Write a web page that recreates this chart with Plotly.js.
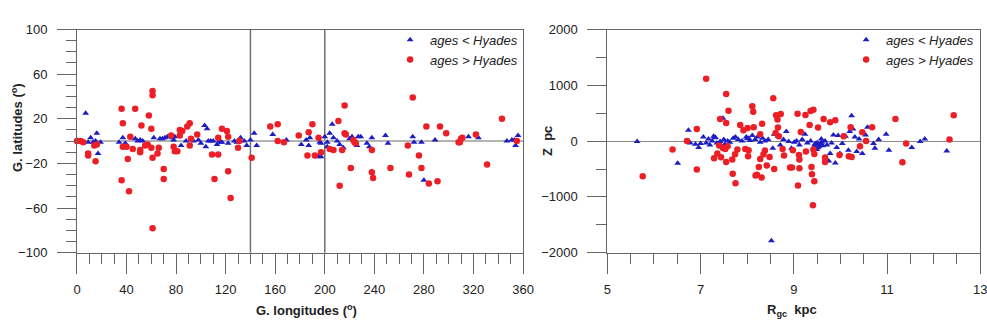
<!DOCTYPE html>
<html><head><meta charset="utf-8">
<script src="https://cdn.plot.ly/plotly-3.0.1.min.js"></script>
<style>html,body{margin:0;padding:0;background:#fff}</style>
</head><body><div id="chart" style="width:987px;height:329px"></div>
<script>
// ---- Left panel: galactic longitude / latitude (degrees) ----
const youngLon = [7,9,11,13,16,17,15,19,34,37,
  39,47,49,51,53,62,67,69,71,73,
  75,77,78,79,84,88,94,98,100,103,
  105,104,106,108,110,113,115,116,117,122,
  127,129,132,135,137,140,143,145,158,169,
  181,185,187,188,195,197,196,197,200,202,
  202,204,206,207,210,212,215,220,222,226,
  227,229,234,236,238,249,251,272,271,278,
  280,289,316,324,347,351,353,356,354];
const youngLat = [25,-1,3,-1,7,-11,0,-1,-1,3,
  -2,2,0,1,0,3,2,2,3,4,
  4,3,1,4,-4,0,0,1,-2,14,
  11,-5,0,0,0,-3,0,-1,-1,-2,
  0,-1,3,0,-4,1,7,-4,6,1,
  -3,1,-4,3,-14,-14,-1,-2,4,-1,
  -5,7,15,3,0,-3,-6,2,4,-4,
  4,4,-2,-5,3,5,-2,-1,4,-1,
  -35,1,4,3,0,1,1,5,-4];
const oldLon = [0,3,5,9,9,15,16,14,36,36,
  37,37,40,41,42,43,45,47,51,51,
  52,55,57,58,60,60,61,61,61,61,
  65,66,70,70,76,78,79,81,83,85,
  83,89,91,91,92,97,109,111,114,114,
  117,121,122,122,124,130,131,141,156,162,
  162,167,179,186,187,190,192,195,197,204,
  207,211,212,214,216,216,217,221,223,224,
  225,238,238,239,253,267,268,271,276,278,
  282,284,291,293,298,308,309,310,311,322,
  331,343,355];
const oldLat = [0,0,-1,-11,-13,-18,-3,-4,-35,29,
  16,-5,-5,-16,-45,4,-7,29,-8,-10,
  14,-4,-3,23,11,-6,-15,45,41,-78,
  -11,-6,-25,-34,5,-5,-9,-9,10,9,
  5,13,16,-4,2,6,-12,-34,-12,3,
  11,9,-27,4,-51,-6,0,-15,13,15,
  0,-1,5,-13,8,15,-13,3,-10,-7,
  -8,18,-40,-8,32,7,6,-24,1,-1,
  -2,-8,-28,-33,-24,-4,-30,39,-13,-24,
  13,-38,-36,13,7,-1,-1,2,3,6,
  -21,20,0];

// ---- Right panel: galactocentric distance (kpc) / height Z (pc) ----
const youngR = [5.64,6.51,6.74,6.78,6.89,6.96,7.00,7.06,7.12,7.17,
  7.20,7.25,7.28,7.32,7.35,7.42,7.48,7.50,7.52,7.58,
  7.63,7.70,7.75,7.81,7.89,7.98,8.03,8.11,8.17,8.22,
  8.28,8.33,8.38,8.45,8.52,8.55,8.58,8.62,8.66,8.71,
  8.78,8.84,8.89,8.95,9.01,9.06,9.12,9.18,9.24,9.29,
  9.36,9.44,9.47,9.49,9.54,9.57,9.59,9.62,9.67,9.71,
  9.75,9.78,9.81,9.85,9.89,9.92,9.95,9.99,10.04,10.11,
  10.17,10.20,10.24,10.27,10.31,10.35,10.40,10.47,10.54,10.58,
  10.71,10.74,10.82,10.98,11.04,11.53,11.71,11.81,12.28,
  9.45,9.50,9.52,9.55,9.60,8.00,8.06,7.40,7.30];
const youngZ = [-9,-397,194,-33,-57,-116,-45,75,-33,39,
  -69,3,87,63,-33,-9,408,27,-57,3,
  -21,51,75,27,3,75,51,99,27,75,
  -21,51,3,27,-1786,-128,122,146,87,-69,
  27,170,-9,-128,-21,3,-69,27,122,-33,
  3,-104,-45,-152,-92,-45,39,-81,3,-69,
  -355,-224,-33,110,-391,-116,99,-224,-45,87,
  -164,170,456,218,75,-188,39,-224,110,247,
  -45,-128,27,122,-164,-116,-9,39,-176,
  -60,-30,-120,-70,-20,40,10,-40,60];
const oldR = [5.76,6.40,6.71,6.92,6.92,7.12,7.29,7.36,7.40,7.42,
  7.44,7.48,7.53,7.55,7.55,7.55,7.60,7.58,7.68,7.69,
  7.74,7.75,7.79,7.85,7.92,7.96,8.01,8.02,8.03,8.11,
  8.13,8.14,8.18,8.21,8.25,8.28,8.28,8.31,8.32,8.35,
  8.38,8.42,8.48,8.56,8.58,8.61,8.62,8.65,8.66,8.68,
  8.72,8.76,8.79,8.92,8.96,8.98,9.08,9.09,9.11,9.12,
  9.12,9.15,9.25,9.26,9.34,9.36,9.38,9.39,9.42,9.42,
  9.44,9.44,9.41,9.52,9.64,9.67,9.67,9.78,9.89,9.98,
  10.07,10.18,10.22,10.24,10.42,10.47,10.55,10.68,11.18,11.33,
  11.41,12.34,12.43];
const oldZ = [-629,-152,0,218,-510,1118,-307,-224,-80,397,
  -290,-122,-140,844,325,-373,546,-92,-331,-587,
  -236,-754,-152,289,194,-140,236,-271,-164,623,
  528,247,-617,-605,-462,122,-319,-653,313,-236,
  -170,-438,-283,766,-498,146,462,385,242,87,
  486,-140,-259,-474,-474,-164,492,-796,-247,-331,
  -486,164,468,-188,289,540,-462,-593,564,-152,
  -718,-230,-1148,242,397,-295,-373,337,373,-247,
  87,-271,247,-283,-92,158,0,247,397,-379,
  -45,27,462];

const rLabelTicks = [5,7,9,11,13];      // labelled long ticks
const rUnlabelledTicks = [6,8,10,12];   // long ticks without labels

const BLUE = '#1d1dc4', RED = '#ec1f27';
const FONT = 'Liberation Sans, Arial, sans-serif';
const frame = '#666';

const blueMarker = {symbol:'triangle-up', size:6, color:BLUE};
const redMarker = {symbol:'circle', size:6.5, color:RED};

const traces = [
  {x:youngLon, y:youngLat, type:'scatter', mode:'markers', name:'ages < Hyades', marker:blueMarker, xaxis:'x', yaxis:'y', legend:'legend', cliponaxis:false},
  {x:oldLon, y:oldLat, type:'scatter', mode:'markers', name:'ages > Hyades', marker:redMarker, xaxis:'x', yaxis:'y', legend:'legend', cliponaxis:false},
  {x:youngR, y:youngZ, type:'scatter', mode:'markers', name:'ages < Hyades', marker:blueMarker, xaxis:'x2', yaxis:'y2', legend:'legend2', cliponaxis:false},
  {x:oldR, y:oldZ, type:'scatter', mode:'markers', name:'ages > Hyades', marker:redMarker, xaxis:'x2', yaxis:'y2', legend:'legend2', cliponaxis:false}
];

const ax = {showline:true, mirror:true, linecolor:frame, linewidth:1, ticks:'outside', tickcolor:frame, tickwidth:1,
  showgrid:false, zeroline:false, tickfont:{family:FONT, size:13, color:'#222'}, fixedrange:true, ticklabeloverflow:'allow'};

const Y0 = 0.2319, Y1 = 0.9103;
const legFont = {family:FONT, size:13, color:'#222', style:'italic'};

const layout = {
  width:987, height:329, margin:{l:0, r:0, t:0, b:0},
  paper_bgcolor:'#fff', plot_bgcolor:'#fff',
  font:{family:FONT},
  xaxis:Object.assign({}, ax, {domain:[0.0780,0.5299], anchor:'y', range:[0,360], tickmode:'linear', tick0:0, dtick:40, ticklen:20, ticklabelstandoff:5,
    minor:{ticks:'outside', tickmode:'linear', tick0:0, dtick:10, ticklen:10, tickcolor:frame, tickwidth:1, showgrid:false}}),
  yaxis:Object.assign({}, ax, {domain:[Y0,Y1], anchor:'x', range:[-100,100], tickmode:'linear', tick0:-100, dtick:40, ticklen:19, ticklabelstandoff:7,
    zeroline:true, zerolinecolor:'#b4b4b4', zerolinewidth:2,
    minor:{ticks:'outside', tickmode:'linear', tick0:-100, dtick:10, ticklen:10, tickcolor:frame, tickwidth:1, showgrid:false}}),
  xaxis2:Object.assign({}, ax, {domain:[0.6153,0.9932], anchor:'y2', range:[5,13], tickmode:'array', tickvals:rLabelTicks, ticklen:20, ticklabelstandoff:5,
    minor:{ticks:'outside', tickmode:'linear', tick0:5, dtick:0.5, ticklen:10, tickcolor:frame, tickwidth:1, showgrid:false}}),
  xaxis3:{domain:[0.6153,0.9932], anchor:'y2', overlaying:'x2', range:[5,13], tickmode:'array', tickvals:rUnlabelledTicks, ticks:'outside', ticklen:20,
    tickcolor:frame, tickwidth:1, showticklabels:false, showline:false, showgrid:false, zeroline:false, fixedrange:true},
  yaxis2:Object.assign({}, ax, {domain:[Y0,Y1], anchor:'x2', range:[-2000,2000], tickmode:'linear', tick0:-2000, dtick:1000, ticklen:19, ticklabelstandoff:7,
    zeroline:true, zerolinecolor:'#8a8a8a', zerolinewidth:1.2,
    minor:{ticks:'outside', tickmode:'linear', tick0:-2000, dtick:500, ticklen:10, tickcolor:frame, tickwidth:1, showgrid:false}}),
  legend:{x:0.530, xanchor:'right', y:0.925, yanchor:'top', bgcolor:'rgba(0,0,0,0)', font:legFont, itemwidth:30, tracegroupgap:0},
  legend2:{x:0.992, xanchor:'right', y:0.925, yanchor:'top', bgcolor:'rgba(0,0,0,0)', font:legFont, itemwidth:30, tracegroupgap:0},
  shapes:[
    {type:'line', xref:'x', yref:'y domain', x0:140, x1:140, y0:0, y1:1, line:{color:'#707070', width:1.5}, layer:'below'},
    {type:'line', xref:'x', yref:'y domain', x0:200, x1:200, y0:0, y1:1, line:{color:'#707070', width:1.5}, layer:'below'}
  ],
  annotations:[
    {text:'<b>G. longitudes (<sup>o</sup>)</b>', xref:'paper', yref:'paper', x:306/987, y:1-310/329, showarrow:false, xanchor:'center', yanchor:'middle', font:{family:FONT, size:13, color:'#222'}},
    {text:'<b>G. latitudes (<sup>o</sup>)</b>', xref:'paper', yref:'paper', x:17/987, y:1-128/329, textangle:-90, showarrow:false, xanchor:'center', yanchor:'middle', font:{family:FONT, size:13, color:'#222'}},
    {text:'<b>R<sub>gc</sub>&nbsp;&nbsp;kpc</b>', xref:'paper', yref:'paper', x:792/987, y:1-310/329, showarrow:false, xanchor:'center', yanchor:'middle', font:{family:FONT, size:13, color:'#222'}},
    {text:'<b>Z&nbsp;&nbsp;pc</b>', xref:'paper', yref:'paper', x:547/987, y:1-141/329, textangle:-90, showarrow:false, xanchor:'center', yanchor:'middle', font:{family:FONT, size:13, color:'#222'}}
  ]
};

Plotly.newPlot('chart', traces, layout, {displayModeBar:false, staticPlot:true});
</script></body></html>
